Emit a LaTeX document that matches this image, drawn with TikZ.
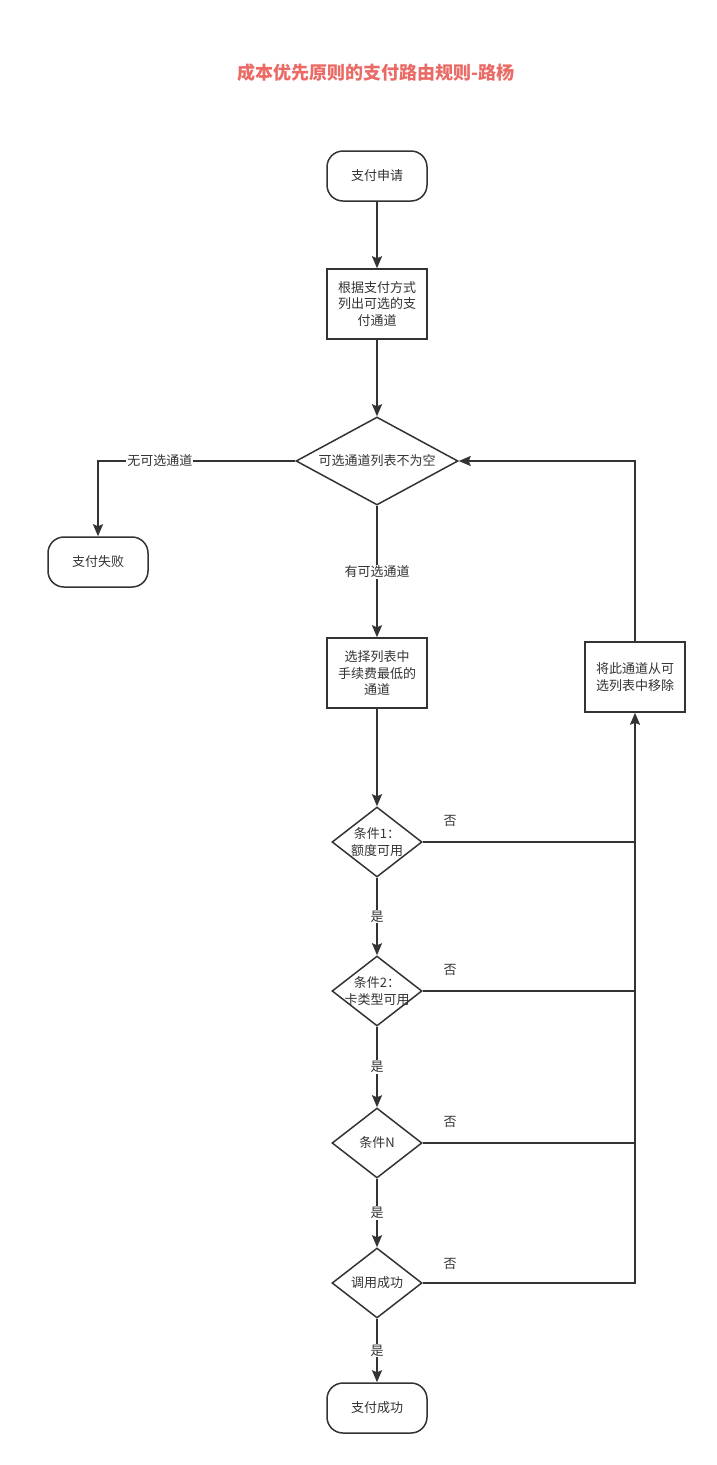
\documentclass[tikz,border=0pt]{standalone}
\usepackage{fontspec}
\setmainfont{Noto Sans CJK SC}
\usetikzlibrary{shapes.geometric,arrows.meta}
\definecolor{ln}{HTML}{333333}
\definecolor{ttl}{HTML}{EA6B66}
\begin{document}
\begin{tikzpicture}[x=1pt,y=-1pt,
  every node/.style={font=\fontsize{13}{16.5}\selectfont, text=ln},
  base/.style={draw=ln, line width=1.5pt, fill=white, inner sep=0pt, align=center},
  term/.style={base, rounded corners=16pt, minimum width=100pt, minimum height=50pt},
  proc/.style={base, minimum width=100pt, minimum height=70pt},
  dec/.style={base, diamond, minimum width=90pt, minimum height=70pt},
  conn/.style={draw=ln, line width=1.8pt, -{Stealth[length=12pt,width=10pt,inset=2pt]}},
  plainline/.style={draw=ln, line width=1.8pt},
  elab/.style={fill=white, inner sep=1pt},
]
\useasboundingbox (0,0) rectangle (717,1465);
\node[font=\fontsize{18}{20}\selectfont\bfseries, text=ttl] (title) at (376,73) {成本优先原则的支付路由规则-路杨};

\node[term] (start) at (377,176) {支付申请};
\node[proc] (list) at (377,304) {根据支付方式\\列出可选的支\\付通道};
\node[dec, minimum width=162pt, minimum height=88pt, label={[align=center]center:{可选通道列表不为空}}] (d0) at (377,461) {};
\node[term] (fail) at (98,562) {支付失败};
\node[proc] (choose) at (377,673) {选择列表中\\手续费最低的\\通道};
\node[proc] (remove) at (635,677) {将此通道从可\\选列表中移除};
\node[dec, label={[align=center]center:{条件1：\\额度可用}}] (c1) at (377,842) {};
\node[dec, label={[align=center]center:{条件2：\\卡类型可用}}] (c2) at (377,991) {};
\node[dec, label={[align=center]center:{条件N}}] (cn) at (377,1143) {};
\node[dec, label={[align=center]center:{调用成功}}] (call) at (377,1283) {};
\node[term] (ok) at (377,1408) {支付成功};

\node (no1) at (450,821) {否};
\node (no2) at (450,970) {否};
\node (no3) at (450,1122) {否};
\node (no4) at (450,1264) {否};

\draw[conn] (start) -- (list);
\draw[conn] (list) -- (d0);
\draw[conn] (d0.west) -| node[elab, pos=0.343] {无可选通道} (fail);
\draw[conn] (d0) -- node[elab, pos=0.5] {有可选通道} (choose);
\draw[conn] (choose) -- (c1);
\draw[conn] (c1) -- node[elab] {是} (c2);
\draw[conn] (c2) -- node[elab] {是} (cn);
\draw[conn] (cn) -- node[elab] {是} (call);
\draw[conn] (call) -- node[elab] {是} (ok);
\draw[plainline] (c1.east) -- (c1.east -| remove);
\draw[plainline] (c2.east) -- (c2.east -| remove);
\draw[plainline] (cn.east) -- (cn.east -| remove);
\draw[conn] (call.east) -| (remove.south);
\draw[conn] (remove.north) |- (d0.east);
\end{tikzpicture}
\end{document}
